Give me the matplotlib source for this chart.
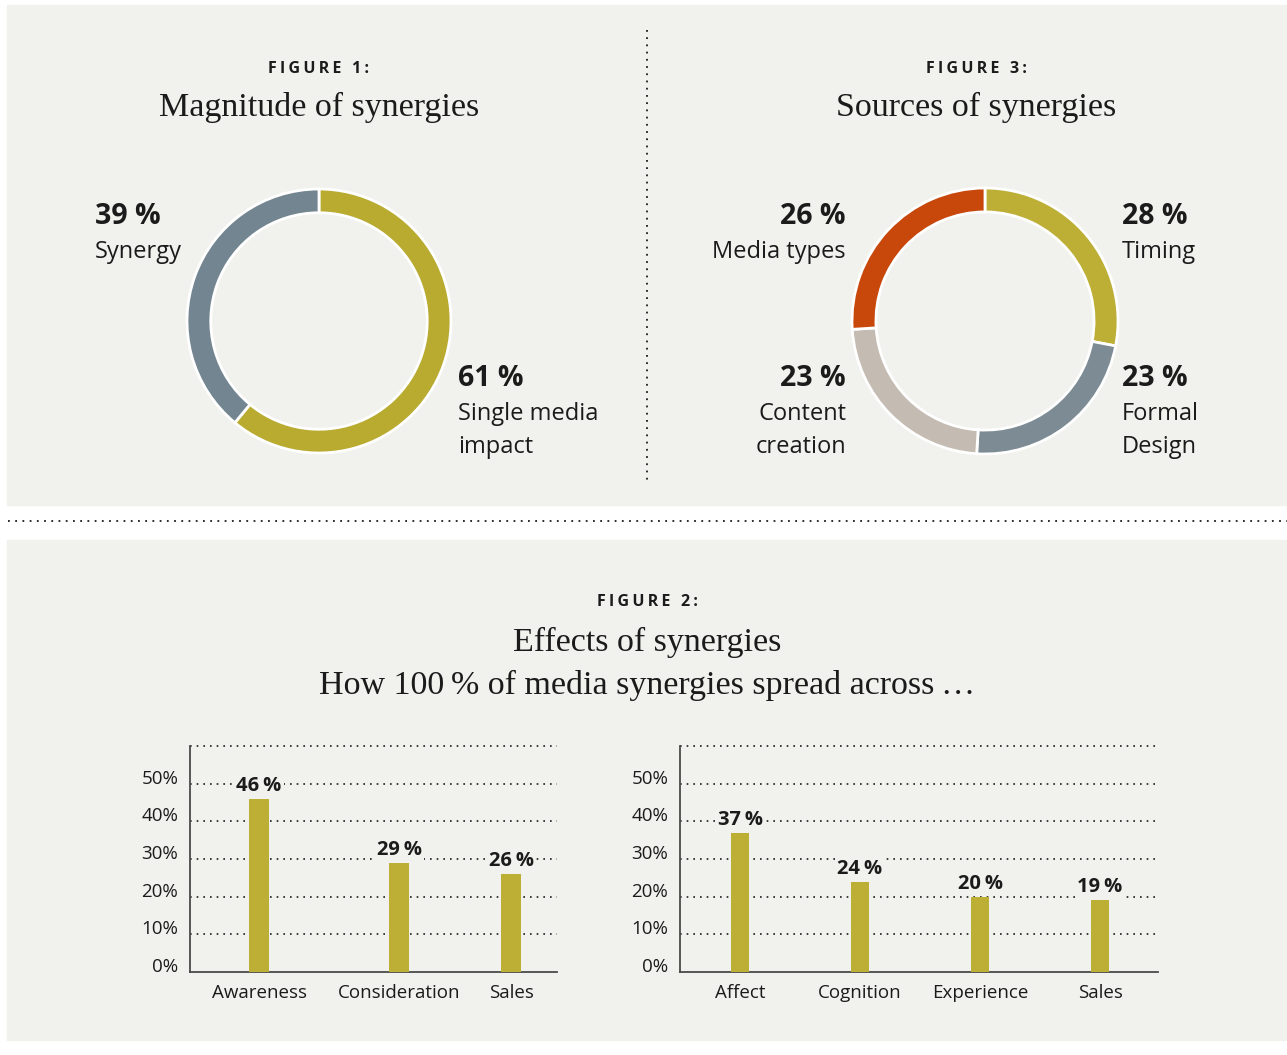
import matplotlib
matplotlib.use('Agg')
import matplotlib.pyplot as plt
from matplotlib.patches import Rectangle

W, H = 1287, 1055
SANS = ['Open Sans', 'DejaVu Sans']
SERIF = ['Liberation Serif', 'DejaVu Serif']
INK = '#1b1b1b'
PANEL = '#f1f1ed'

# figure 1 data
mag_labels = ['Single media\nimpact', 'Synergy']
mag_values = [61, 39]
mag_colors = ['#b8ab30', '#728590']

# figure 3 data
src_labels = ['Timing', 'Formal\nDesign', 'Content\ncreation', 'Media types']
src_values = [28, 23, 23, 26]
src_colors = ['#bdaf36', '#7c8b94', '#c4bcb2', '#c8470a']

# figure 2 data
eff_left_cats = ['Awareness', 'Consideration', 'Sales']
eff_left_vals = [46, 29, 26]
eff_right_cats = ['Affect', 'Cognition', 'Experience', 'Sales']
eff_right_vals = [37, 24, 20, 19]
yticks = [0, 10, 20, 30, 40, 50]

# layout only: where the bars sit along each axis
left_pos = [0, 1.111, 2.0]
right_pos = [0, 1, 2, 3]

fig = plt.figure(figsize=(12.87, 10.55), dpi=100)
fig.patch.set_facecolor('white')

bg = fig.add_axes([0, 0, 1, 1])
bg.set_xlim(0, W)
bg.set_ylim(H, 0)
bg.axis('off')
bg.add_patch(Rectangle((7, 5), W - 7, 500, color=PANEL, zorder=0))
bg.add_patch(Rectangle((7, 540), W - 7, 500, color=PANEL, zorder=0))
bg.plot([8, W], [521, 521], ls=(0, (1, 3)), color=INK, lw=1.3)
bg.plot([647, 647], [30, 482], ls=(0, (1, 3)), color=INK, lw=1.3)


def axes_px(x0, y0, x1, y1):
    return fig.add_axes([x0 / W, 1 - y1 / H, (x1 - x0) / W, (y1 - y0) / H])


def spaced(s):
    return '\u2009'.join(s)


# titles
for x, y, s in [(319, 68, 'FIGURE 1:'), (976, 68, 'FIGURE 3:'),
                (647, 601, 'FIGURE 2:')]:
    bg.text(x, y + 1, spaced(s), ha='center', va='center', fontsize=11.5,
            fontweight='bold', family=SANS, color=INK)
for x, y, s in [(319, 105, 'Magnitude of synergies'),
                (976, 105, 'Sources of synergies'),
                (647, 640, 'Effects of synergies'),
                (647, 683, 'How 100\u2009% of media synergies spread across\u2009\u2026')]:
    bg.text(x, y + 2, s, ha='center', va='center', fontsize=24.5, family=SERIF,
            color=INK)


def donut(cx, cy, r, values, colors):
    ax = axes_px(cx - r, cy - r, cx + r, cy + r)
    ax.pie(values, colors=colors, startangle=90, counterclock=False, radius=1,
           wedgeprops=dict(width=0.18, edgecolor='white', linewidth=2))
    ax.set_xlim(-1, 1)
    ax.set_ylim(-1, 1)
    ax.axis('off')


donut(319, 321, 132, mag_values, mag_colors)
donut(985, 321, 133, src_values, src_colors)


def callout(x, y, value, label, ha):
    bg.text(x, y + 1, f'{value} %', ha=ha, va='center', fontsize=20.5,
            fontweight='bold', family=SANS, color=INK)
    bg.text(x, y + 25, label, ha=ha, va='top', fontsize=17, family=SANS,
            color=INK, linespacing=1.5)


callout(95, 215, mag_values[1], mag_labels[1], 'left')
callout(458, 377, mag_values[0], mag_labels[0], 'left')
callout(1122, 215, src_values[0], src_labels[0], 'left')
callout(1122, 377, src_values[1], src_labels[1], 'left')
callout(846, 377, src_values[2], src_labels[2], 'right')
callout(846, 215, src_values[3], src_labels[3], 'right')


def bars(box, cats, vals, pos, xlim):
    ax = axes_px(*box)
    ax.set_facecolor('none')
    ax.bar(pos, vals, width=0.155, color='#bdae36', zorder=3)
    ax.set_ylim(0, 60)
    ax.set_xlim(*xlim)
    ax.set_yticks(yticks)
    # labels sit just above their grid line, as in the print version
    ax.set_yticklabels([f'{t}%' for t in yticks], fontsize=13.5, family=SANS,
                       color=INK, va='baseline')
    ax.set_xticks(pos)
    ax.set_xticklabels(cats, fontsize=13.5, family=SANS, color=INK)
    ax.tick_params(axis='y', length=0, pad=8.5)
    ax.tick_params(axis='x', length=0, pad=9)
    for t in [10, 20, 30, 40, 50, 60]:
        ax.axhline(t, color=INK, ls=(0, (1, 3)), lw=1.2, zorder=1,
                   clip_on=False)
    for s in ['top', 'right']:
        ax.spines[s].set_visible(False)
    for s in ['left', 'bottom']:
        ax.spines[s].set_color('#4a4a4a')
        ax.spines[s].set_linewidth(1.3)
    for xi, v in zip(pos, vals):
        ax.text(xi, v + 0.8, f'{v}\u2009%', ha='center', va='bottom',
                fontsize=14.5, fontweight='bold', family=SANS, color=INK,
                zorder=4,
                bbox=dict(boxstyle='square,pad=0.1', fc=PANEL, ec='none'))


bars((190, 746, 557, 972), eff_left_cats, eff_left_vals, left_pos,
     (-0.548, 2.365))
bars((680, 746, 1158, 972), eff_right_cats, eff_right_vals, right_pos,
     (-0.5, 3.483))

fig.savefig('out.png', dpi=100, facecolor=fig.get_facecolor())
